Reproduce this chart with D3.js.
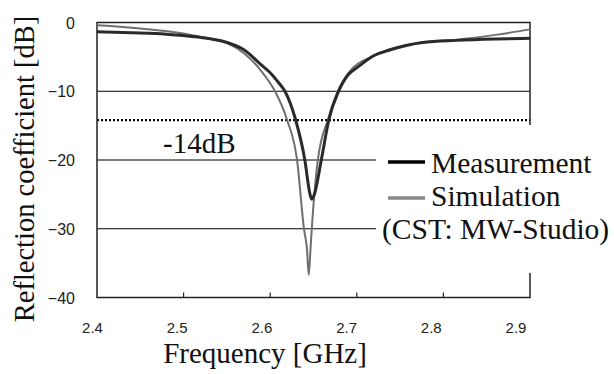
<!DOCTYPE html>
<html>
<head>
<meta charset="utf-8">
<script src="https://cdn.jsdelivr.net/npm/d3@7/dist/d3.min.js"></script>
<style>
  html, body { margin: 0; padding: 0; background: #fff; }
  svg { display: block; }
  .serif { font-family: "Liberation Serif", "Times New Roman", Times, serif; }
  .sans { font-family: "Liberation Sans", Arial, Helvetica, sans-serif; }
</style>
</head>
<body>
<div id="chart"></div>
<script>
// values
const measFreq = [2.40, 2.44, 2.48, 2.50, 2.527, 2.55, 2.57, 2.59, 2.60, 2.61, 2.617, 2.629, 2.640, 2.646, 2.648, 2.651, 2.659, 2.668, 2.679, 2.69, 2.70, 2.72, 2.738, 2.776, 2.815, 2.86, 2.90];
const measDb   = [-1.35, -1.5, -1.7, -1.9, -2.3, -2.9, -4.0, -6.2, -7.3, -8.8, -10, -14, -20, -25, -25.7, -25, -20, -14, -10, -7.6, -6.6, -4.8, -4.0, -2.9, -2.6, -2.4, -2.3];

const simFreq = [2.40, 2.45, 2.50, 2.527, 2.55, 2.57, 2.59, 2.6055, 2.619, 2.631, 2.639, 2.6425, 2.6445, 2.6465, 2.648, 2.655, 2.667, 2.678, 2.69, 2.72, 2.738, 2.776, 2.815, 2.86, 2.90];
const simDb   = [-0.4, -0.86, -1.6, -2.3, -3.0, -4.5, -7.1, -10, -14, -20, -30, -33, -36.7, -33, -30, -20, -14, -10, -7.4, -4.8, -3.9, -2.9, -2.5, -1.8, -1.0];

const xTicks = [2.4, 2.5, 2.6, 2.7, 2.8, 2.9];
const yTicks = [0, -10, -20, -30, -40];
const gridLines = [-10, -20, -30];
const thresholdDb = -14.2;
const thresholdLabel = "-14dB";
const seriesNames = ["Measurement", "Simulation", "(CST: MW-Studio)"];

const W = 614, H = 374;
const plot = { left: 97, right: 530, top: 22.5, bottom: 297.5 };

const svg = d3.select("#chart").append("svg")
  .attr("width", W).attr("height", H);

const x = d3.scaleLinear().domain([2.4, 2.9]).range([plot.left, plot.right]);
// tick labels in the source sit on a slightly narrower spacing
const xLab = d3.scaleLinear().domain([2.4, 2.9]).range([92.5, 516]);
const y = d3.scaleLinear().domain([-40, 0]).range([plot.bottom, plot.top]);

// gridlines
svg.append("g").selectAll("line")
  .data(gridLines).enter().append("line")
  .attr("x1", plot.left).attr("x2", plot.right)
  .attr("y1", d => y(d)).attr("y2", d => y(d))
  .attr("stroke", "#000").attr("stroke-width", 1.2);

// -14 dB dotted line
svg.append("line")
  .attr("x1", plot.left).attr("x2", plot.right)
  .attr("y1", y(thresholdDb)).attr("y2", y(thresholdDb))
  .attr("stroke", "#000").attr("stroke-width", 2.2)
  .attr("stroke-dasharray", "2,2");

svg.append("text")
  .attr("class", "serif")
  .attr("x", 163).attr("y", 152.5)
  .attr("font-size", 29)
  .attr("fill", "#111")
  .text(thresholdLabel);

// frame
svg.append("rect")
  .attr("x", plot.left).attr("y", plot.top)
  .attr("width", plot.right - plot.left).attr("height", plot.bottom - plot.top)
  .attr("fill", "none").attr("stroke", "#222").attr("stroke-width", 1.5);

// x ticks (inward)
svg.append("g").selectAll("line")
  .data(xTicks.slice(1, -1)).enter().append("line")
  .attr("x1", d => x(d)).attr("x2", d => x(d))
  .attr("y1", plot.bottom).attr("y2", plot.bottom - 5)
  .attr("stroke", "#222").attr("stroke-width", 1.2);

const line = d3.line()
  .x(d => x(d[0]))
  .y(d => y(d[1]))
  .curve(d3.curveMonotoneX);

svg.append("path")
  .datum(simFreq.map((f, i) => [f, simDb[i]]))
  .attr("d", line)
  .attr("fill", "none").attr("stroke", "#6f6f6f").attr("stroke-width", 2);

svg.append("path")
  .datum(measFreq.map((f, i) => [f, measDb[i]]))
  .attr("d", line)
  .attr("fill", "none").attr("stroke", "#2a2a2a").attr("stroke-width", 3);

// tick labels
svg.append("g").selectAll("text")
  .data(xTicks).enter().append("text")
  .attr("class", "sans")
  .attr("x", d => xLab(d)).attr("y", 333)
  .attr("text-anchor", "middle")
  .attr("font-size", 15).attr("fill", "#222")
  .text(d => d.toFixed(1));

svg.append("g").selectAll("text")
  .data(yTicks).enter().append("text")
  .attr("class", "sans")
  .attr("x", 75).attr("y", d => y(d) + 6)
  .attr("text-anchor", "end")
  .attr("font-size", 16).attr("fill", "#222")
  .text(d => d === 0 ? "0" : "\u2212" + Math.abs(d));

// axis titles
svg.append("text")
  .attr("class", "serif")
  .attr("transform", "translate(34,169) rotate(-90)")
  .attr("text-anchor", "middle")
  .attr("font-size", 28.5).attr("fill", "#111")
  .text("Reflection coefficient [dB]");

svg.append("text")
  .attr("class", "serif")
  .attr("x", 265).attr("y", 363)
  .attr("text-anchor", "middle")
  .attr("font-size", 29).attr("fill", "#111")
  .text("Frequency [GHz]");

// legend
const lg = svg.append("g");
lg.append("rect")
  .attr("x", 376).attr("y", 125).attr("width", W - 376).attr("height", 148)
  .attr("fill", "#fff");
lg.append("line")
  .attr("x1", 388).attr("x2", 425).attr("y1", 162).attr("y2", 162)
  .attr("stroke", "#000").attr("stroke-width", 3.5);
lg.append("line")
  .attr("x1", 388).attr("x2", 425).attr("y1", 198).attr("y2", 198)
  .attr("stroke", "#888").attr("stroke-width", 3.5);
lg.selectAll("text")
  .data(seriesNames).enter().append("text")
  .attr("class", "serif")
  .attr("x", (d, i) => i < 2 ? 431 : 382)
  .attr("y", (d, i) => 173 + i * 33)
  .attr("font-size", 29.5).attr("fill", "#111")
  .text(d => d);
</script>
</body>
</html>
